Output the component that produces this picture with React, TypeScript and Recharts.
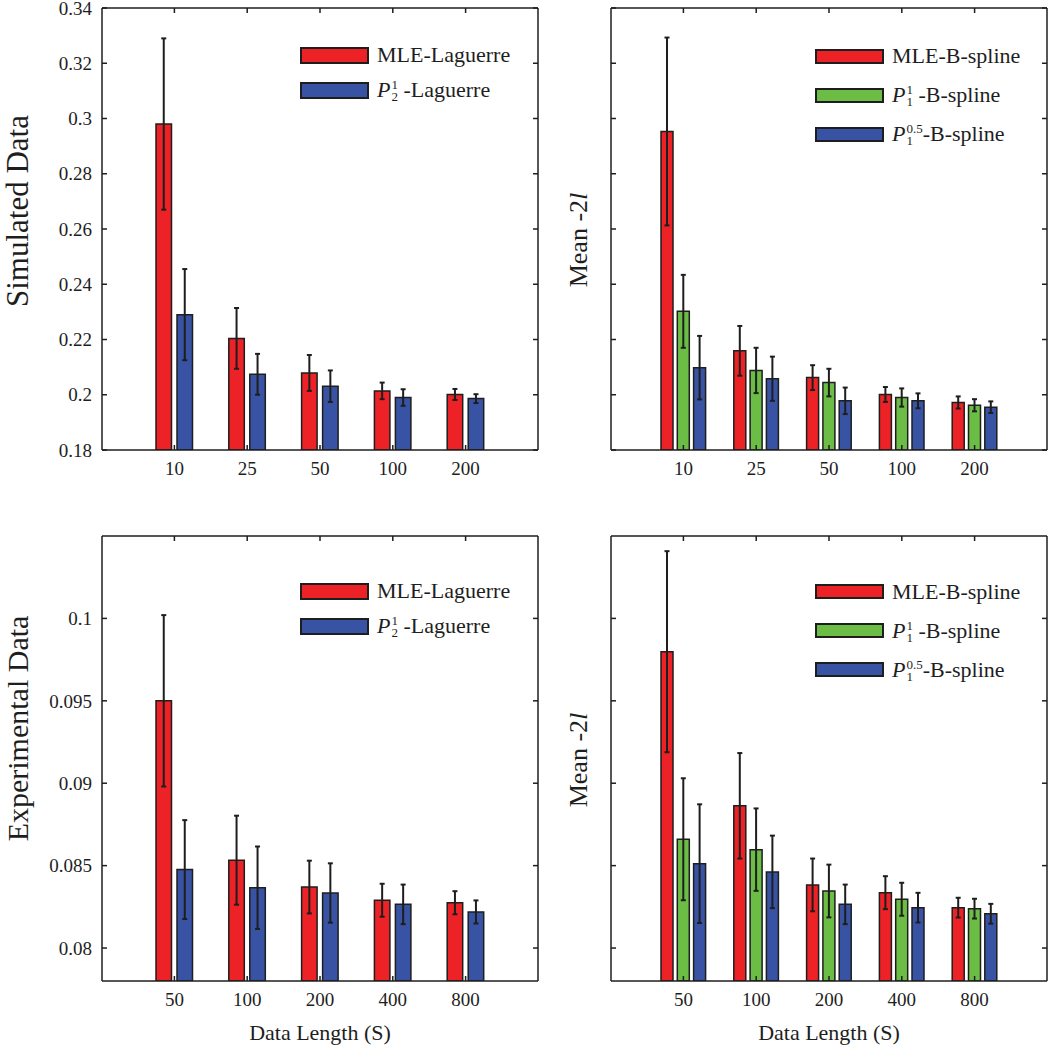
import React from 'react';
import { BarChart, Bar, XAxis, YAxis, ErrorBar, Legend } from 'recharts';

const FONT = '"Liberation Serif", "Times New Roman", serif';
const RED = '#ec2227';
const GREEN = '#6cbd45';
const BLUE = '#3953a4';
const INK = '#1e1e1e';

// simulated data (top row)
const simLengths = ['10', '25', '50', '100', '200'];
const simLagMle = [0.298, 0.2204, 0.2079, 0.2014, 0.2001];
const simLagMleErr = [0.031, 0.011, 0.0065, 0.003, 0.002];
const simLagPen = [0.229, 0.2074, 0.2031, 0.199, 0.1986];
const simLagPenErr = [0.0165, 0.0074, 0.0057, 0.003, 0.0016];

const simBspMle = [0.2953, 0.2159, 0.2062, 0.2001, 0.1972];
const simBspMleErr = [0.034, 0.009, 0.0045, 0.0027, 0.0022];
const simBspP1 = [0.2302, 0.2088, 0.2044, 0.199, 0.1962];
const simBspP1Err = [0.0132, 0.0082, 0.005, 0.0033, 0.0022];
const simBspP05 = [0.2098, 0.2058, 0.1978, 0.1978, 0.1955];
const simBspP05Err = [0.0115, 0.008, 0.0048, 0.0027, 0.0021];

const simTicks = [0.18, 0.2, 0.22, 0.24, 0.26, 0.28, 0.3, 0.32, 0.34];

// experimental data (bottom row)
const expLengths = ['50', '100', '200', '400', '800'];
const expLagMle = [0.095, 0.08533, 0.0837, 0.0829, 0.08275];
const expLagMleErr = [0.0052, 0.0027, 0.0016, 0.001, 0.0007];
const expLagPen = [0.08476, 0.08366, 0.08334, 0.08265, 0.08219];
const expLagPenErr = [0.003, 0.0025, 0.0018, 0.0012, 0.0007];

const expBspMle = [0.09798, 0.08863, 0.08383, 0.08336, 0.08245];
const expBspMleErr = [0.0061, 0.0032, 0.0016, 0.001, 0.0006];
const expBspP1 = [0.0866, 0.08597, 0.08346, 0.08296, 0.08239];
const expBspP1Err = [0.0037, 0.0025, 0.0016, 0.001, 0.0006];
const expBspP05 = [0.08512, 0.08462, 0.08265, 0.08245, 0.08208];
const expBspP05Err = [0.0036, 0.0022, 0.0012, 0.0009, 0.0006];

const expTicks = [0.08, 0.085, 0.09, 0.095, 0.1];

const makeRows = (lengths: string[], series: Record<string, number[]>) =>
  lengths.map((len, i) => {
    const row: any = { len };
    Object.keys(series).forEach((k) => (row[k] = series[k][i]));
    return row;
  });

const simLagRows = makeRows(simLengths, { mle: simLagMle, mleErr: simLagMleErr, pen: simLagPen, penErr: simLagPenErr });
const simBspRows = makeRows(simLengths, {
  mle: simBspMle, mleErr: simBspMleErr, p1: simBspP1, p1Err: simBspP1Err, p05: simBspP05, p05Err: simBspP05Err,
});
const expLagRows = makeRows(expLengths, { mle: expLagMle, mleErr: expLagMleErr, pen: expLagPen, penErr: expLagPenErr });
const expBspRows = makeRows(expLengths, {
  mle: expBspMle, mleErr: expBspMleErr, p1: expBspP1, p1Err: expBspP1Err, p05: expBspP05, p05Err: expBspP05Err,
});

// P with stacked super/subscript
const PScript = ({ sup, sub }: { sup: string; sub: string }) => (
  <span>
    <i>P</i>
    <span
      style={{
        display: 'inline-flex',
        flexDirection: 'column',
        fontSize: 13,
        lineHeight: '12px',
        verticalAlign: '8px',
        marginLeft: 1,
      }}
    >
      <span>{sup}</span>
      <span>{sub}</span>
    </span>
  </span>
);

type BarSpec = { key: string; err: string; color: string; label: React.ReactNode };

const lagBars: BarSpec[] = [
  { key: 'mle', err: 'mleErr', color: RED, label: 'MLE-Laguerre' },
  { key: 'pen', err: 'penErr', color: BLUE, label: <><PScript sup="1" sub="2" /> -Laguerre</> },
];
const bspBars: BarSpec[] = [
  { key: 'mle', err: 'mleErr', color: RED, label: 'MLE-B-spline' },
  { key: 'p1', err: 'p1Err', color: GREEN, label: <><PScript sup="1" sub="1" /> -B-spline</> },
  { key: 'p05', err: 'p05Err', color: BLUE, label: <><PScript sup="0.5" sub="1" />-B-spline</> },
];

const SideTitle = ({ viewBox, tx, ty, fs, body }: any) => {
  if (!viewBox) return null;
  const x = viewBox.x + tx;
  const y = viewBox.y + viewBox.height / 2 + ty;
  return (
    <text x={x} y={y} transform={`rotate(-90 ${x} ${y})`} textAnchor="middle" fontFamily={FONT} fontSize={fs} fill={INK}>
      {body}
    </text>
  );
};

const BottomTitle = ({ viewBox, ty, body }: any) => {
  if (!viewBox) return null;
  return (
    <text x={viewBox.x + viewBox.width / 2} y={viewBox.y + ty} textAnchor="middle" fontFamily={FONT} fontSize={22} fill={INK}>
      {body}
    </text>
  );
};

const LegendBlock = ({ bars, rowH, boxH }: { bars: BarSpec[]; rowH: number; boxH: number }) => (
  <div style={{ fontFamily: FONT, fontSize: 22, color: INK }}>
    {bars.map((b) => (
      <div key={b.key} style={{ display: 'flex', alignItems: 'center', height: rowH, whiteSpace: 'nowrap' }}>
        <span
          style={{
            display: 'inline-block',
            width: 69,
            height: boxH,
            boxSizing: 'border-box',
            background: b.color,
            border: `2px solid ${INK}`,
          }}
        />
        <span style={{ marginLeft: 8 }}>{b.label}</span>
      </div>
    ))}
  </div>
);

const fmt = (v: number) => String(Number(v.toFixed(4)));
const blank = () => '';

type PanelProps = {
  left: number;
  top: number;
  width: number;
  height: number;
  topGap: number;
  data: any[];
  bars: BarSpec[];
  yDomain: [number, number];
  yTicks: number[];
  axisWidth: number;
  tickLabels: boolean;
  yTitle: React.ReactElement;
  xTitle?: React.ReactElement;
  xAxisHeight: number;
  barSize: number;
  barGap: number;
  legend: { left: number; top: number; rowH: number; boxH: number };
};

const tickStyle = { fill: INK, fontSize: 19, fontFamily: FONT };
const axisStroke = { stroke: INK, strokeWidth: 1.5 };

function Panel(p: PanelProps) {
  const pad = { left: 36, right: 36 };
  return (
    <div style={{ position: 'absolute', left: p.left, top: p.top }}>
      <BarChart
        width={p.width}
        height={p.height}
        data={p.data}
        margin={{ top: p.topGap, right: 1, bottom: 0, left: 0 }}
        barSize={p.barSize}
        barGap={p.barGap}
      >
        <XAxis
          dataKey="len"
          interval={0}
          padding={pad}
          height={p.xAxisHeight}
          tickSize={-5}
          tickMargin={17}
          tick={tickStyle}
          axisLine={axisStroke}
          tickLine={axisStroke}
          label={p.xTitle}
        />
        <XAxis
          xAxisId="top"
          orientation="top"
          dataKey="len"
          interval={0}
          padding={pad}
          height={1}
          tickSize={-5}
          tickFormatter={blank}
          axisLine={axisStroke}
          tickLine={axisStroke}
        />
        <YAxis
          type="number"
          domain={p.yDomain}
          ticks={p.yTicks}
          allowDataOverflow
          interval={0}
          width={p.axisWidth}
          tickSize={-5}
          tickMargin={15}
          tick={tickStyle}
          tickFormatter={p.tickLabels ? fmt : blank}
          axisLine={axisStroke}
          tickLine={axisStroke}
          label={p.yTitle}
        />
        <YAxis
          yAxisId="right"
          orientation="right"
          type="number"
          domain={p.yDomain}
          ticks={p.yTicks}
          allowDataOverflow
          interval={0}
          width={1}
          tickSize={-5}
          tickFormatter={blank}
          axisLine={axisStroke}
          tickLine={axisStroke}
        />
        <Legend
          layout="vertical"
          align="center"
          verticalAlign="middle"
          wrapperStyle={{ left: p.legend.left, top: p.legend.top, width: 'auto' }}
          content={() => <LegendBlock bars={p.bars} rowH={p.legend.rowH} boxH={p.legend.boxH} />}
        />
        {p.bars.map((b) => (
          <Bar key={b.key} dataKey={b.key} fill={b.color} stroke={INK} strokeWidth={1.5} isAnimationActive={false}>
            <ErrorBar dataKey={b.err} width={2.5} strokeWidth={2} stroke={INK} direction="y" />
          </Bar>
        ))}
      </BarChart>
    </div>
  );
}

const meanLabel = (
  <>
    <tspan>Mean -2</tspan>
    <tspan fontStyle="italic">l</tspan>
  </>
);

export default function App() {
  return (
    <div
      style={{
        position: 'absolute',
        left: 0,
        top: 0,
        width: 1049,
        height: 1050,
        overflow: 'hidden',
        background: '#fff',
      }}
    >
      <Panel
        left={0}
        top={0}
        width={540}
        height={490}
        topGap={7}
        data={simLagRows}
        bars={lagBars}
        yDomain={[0.18, 0.34]}
        yTicks={simTicks}
        axisWidth={102}
        tickLabels
        yTitle={<SideTitle tx={28} ty={-18} fs={31} body="Simulated Data" />}
        xAxisHeight={40}
        barSize={15.5}
        barGap={5.5}
        legend={{ left: 300, top: 37.5, rowH: 35.3, boxH: 17 }}
      />
      <Panel
        left={540}
        top={0}
        width={509}
        height={490}
        topGap={7}
        data={simBspRows}
        bars={bspBars}
        yDomain={[0.18, 0.34]}
        yTicks={simTicks}
        axisWidth={71}
        tickLabels={false}
        yTitle={<SideTitle tx={47} ty={11} fs={26} body={meanLabel} />}
        xAxisHeight={40}
        barSize={12}
        barGap={4.3}
        legend={{ left: 275, top: 36.5, rowH: 39, boxH: 15 }}
      />
      <Panel
        left={0}
        top={531}
        width={540}
        height={515}
        topGap={4}
        data={expLagRows}
        bars={lagBars}
        yDomain={[0.078, 0.105]}
        yTicks={expTicks}
        axisWidth={102}
        tickLabels
        yTitle={<SideTitle tx={28} ty={-30} fs={30} body="Experimental Data" />}
        xTitle={<BottomTitle ty={59} body="Data Length (S)" />}
        xAxisHeight={65}
        barSize={15.5}
        barGap={5.5}
        legend={{ left: 300, top: 42.7, rowH: 35.2, boxH: 17 }}
      />
      <Panel
        left={540}
        top={531}
        width={509}
        height={515}
        topGap={4}
        data={expBspRows}
        bars={bspBars}
        yDomain={[0.078, 0.105]}
        yTicks={expTicks}
        axisWidth={71}
        tickLabels={false}
        yTitle={<SideTitle tx={47} ty={1.5} fs={26} body={meanLabel} />}
        xTitle={<BottomTitle ty={59} body="Data Length (S)" />}
        xAxisHeight={65}
        barSize={12}
        barGap={4.3}
        legend={{ left: 275, top: 41.4, rowH: 39, boxH: 15 }}
      />
    </div>
  );
}
